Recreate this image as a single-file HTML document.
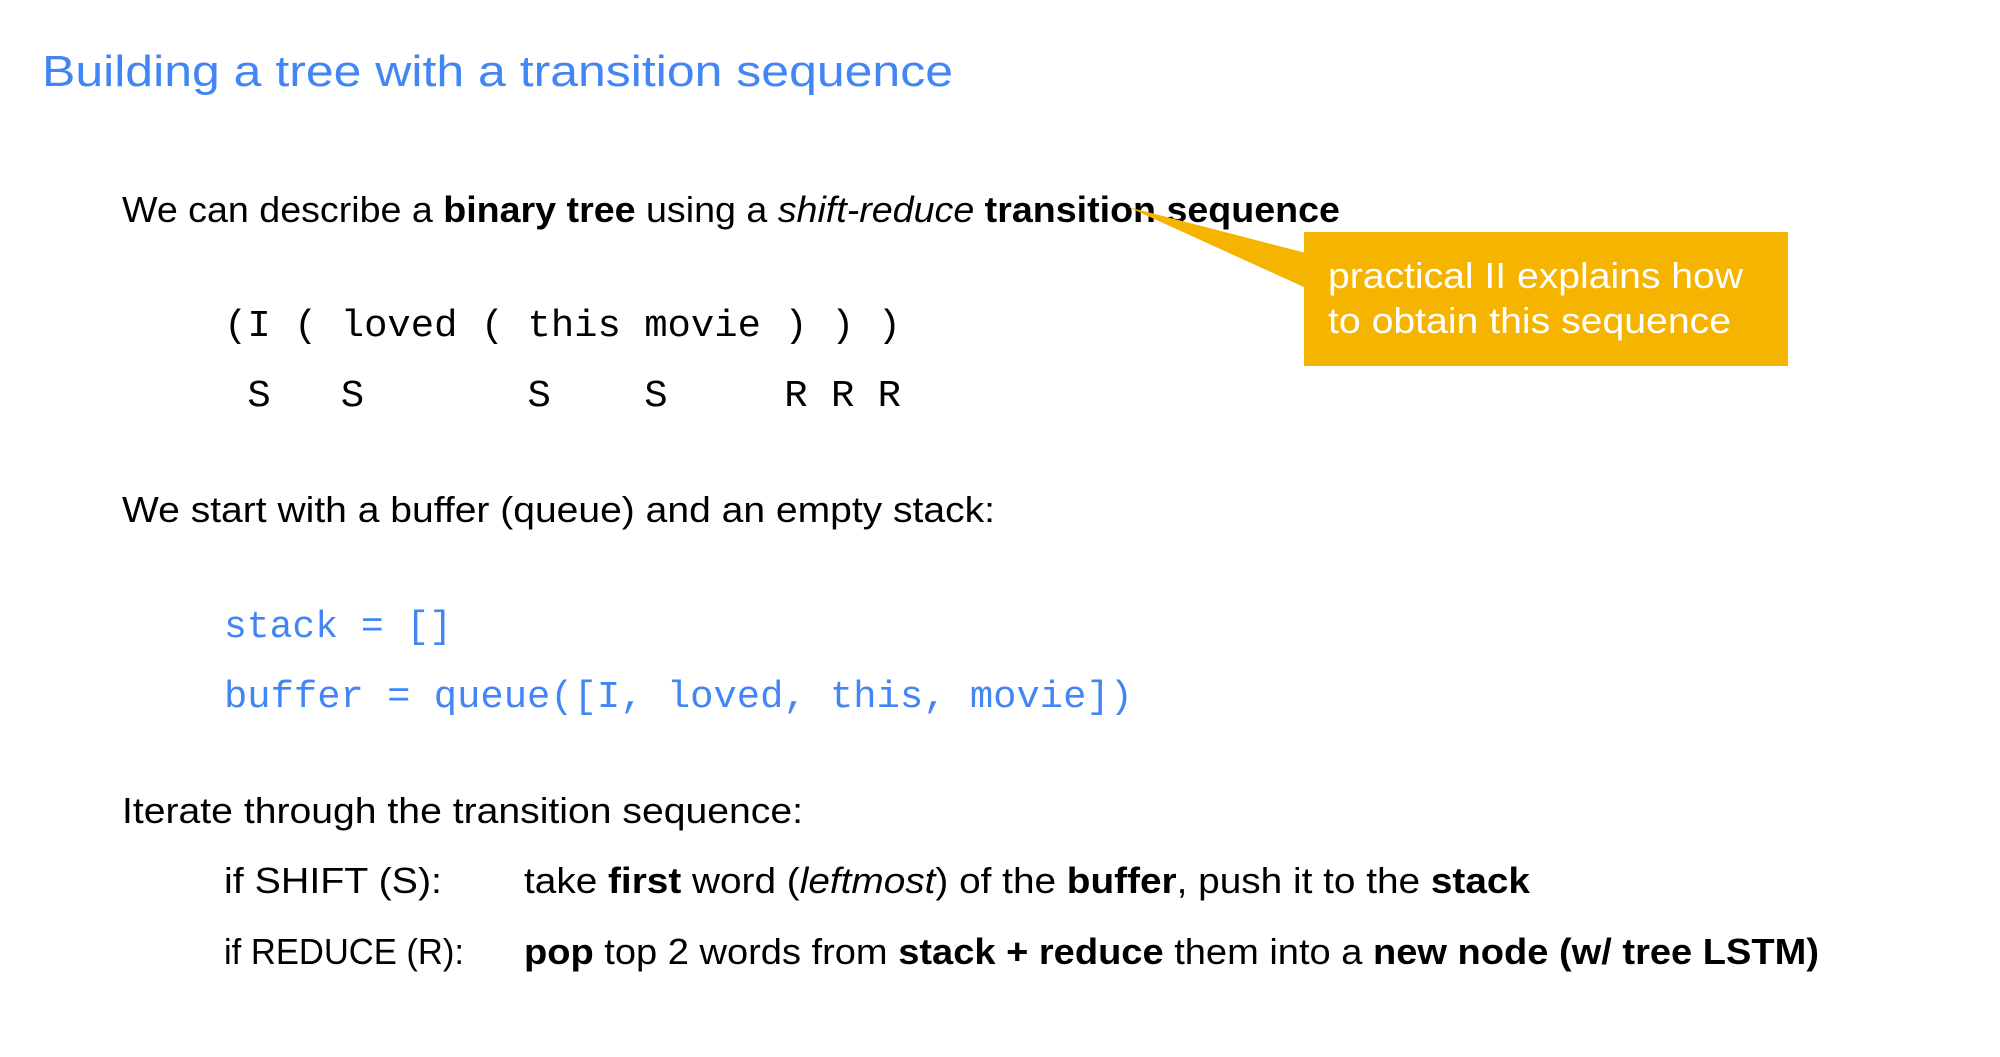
<!DOCTYPE html>
<html><head><meta charset="utf-8"><style>
html,body{margin:0;padding:0;background:#fff;}
svg{display:block}
text{white-space:pre}
.s{font-family:"Liberation Sans",sans-serif;}
.m{font-family:"Liberation Mono",monospace;}
</style></head><body>
<svg width="2000" height="1057" viewBox="0 0 2000 1057" xmlns="http://www.w3.org/2000/svg" xml:space="preserve">
<rect width="2000" height="1057" fill="#fff"/>
<text class="s" x="42" y="86" font-size="44" fill="#4285f4" textLength="911" lengthAdjust="spacingAndGlyphs">Building a tree with a transition sequence</text>
<text class="s" x="122" y="222" font-size="36" fill="#000" textLength="1218" lengthAdjust="spacingAndGlyphs">We can describe a <tspan font-weight="bold">binary tree</tspan> using a <tspan font-style="italic">shift-reduce</tspan> <tspan font-weight="bold">transition sequence</tspan></text>
<text class="m" x="224" y="336" font-size="38" fill="#000" textLength="677" lengthAdjust="spacingAndGlyphs">(I ( loved ( this movie ) ) )</text>
<text class="m" x="224" y="406" font-size="38" fill="#000" textLength="677" lengthAdjust="spacingAndGlyphs"> S   S       S    S     R R R</text>
<text class="s" x="122" y="522" font-size="36" fill="#000" textLength="873" lengthAdjust="spacingAndGlyphs">We start with a buffer (queue) and an empty stack:</text>
<text class="m" x="224" y="637" font-size="38" fill="#4285f4">stack = []</text>
<text class="m" x="224" y="707" font-size="38" fill="#4285f4" textLength="909" lengthAdjust="spacingAndGlyphs">buffer = queue([I, loved, this, movie])</text>
<text class="s" x="122" y="823" font-size="36" fill="#000" textLength="681" lengthAdjust="spacingAndGlyphs">Iterate through the transition sequence:</text>
<text class="s" x="224" y="893" font-size="36" fill="#000" textLength="218" lengthAdjust="spacingAndGlyphs">if SHIFT (S):</text>
<text class="s" x="524" y="893" font-size="36" fill="#000" textLength="1006" lengthAdjust="spacingAndGlyphs">take <tspan font-weight="bold">first</tspan> word (<tspan font-style="italic">leftmost</tspan>) of the <tspan font-weight="bold">buffer</tspan>, push it to the <tspan font-weight="bold">stack</tspan></text>
<text class="s" x="224" y="964" font-size="36" fill="#000" textLength="240" lengthAdjust="spacingAndGlyphs">if REDUCE (R):</text>
<text class="s" x="524" y="964" font-size="36" fill="#000" textLength="1295" lengthAdjust="spacingAndGlyphs"><tspan font-weight="bold">pop</tspan> top 2 words from <tspan font-weight="bold">stack + reduce</tspan> them into a <tspan font-weight="bold">new node (w/ tree LSTM)</tspan></text>
<polygon points="1128,207 1306,253 1306,288" fill="#f4b400"/>
<rect x="1304" y="232" width="484" height="134" fill="#f4b400"/>
<text class="s" x="1328" y="288" font-size="36" fill="#fff" textLength="415" lengthAdjust="spacingAndGlyphs">practical II explains how</text>
<text class="s" x="1328" y="333" font-size="36" fill="#fff" textLength="403" lengthAdjust="spacingAndGlyphs">to obtain this sequence</text>
</svg>
</body></html>
